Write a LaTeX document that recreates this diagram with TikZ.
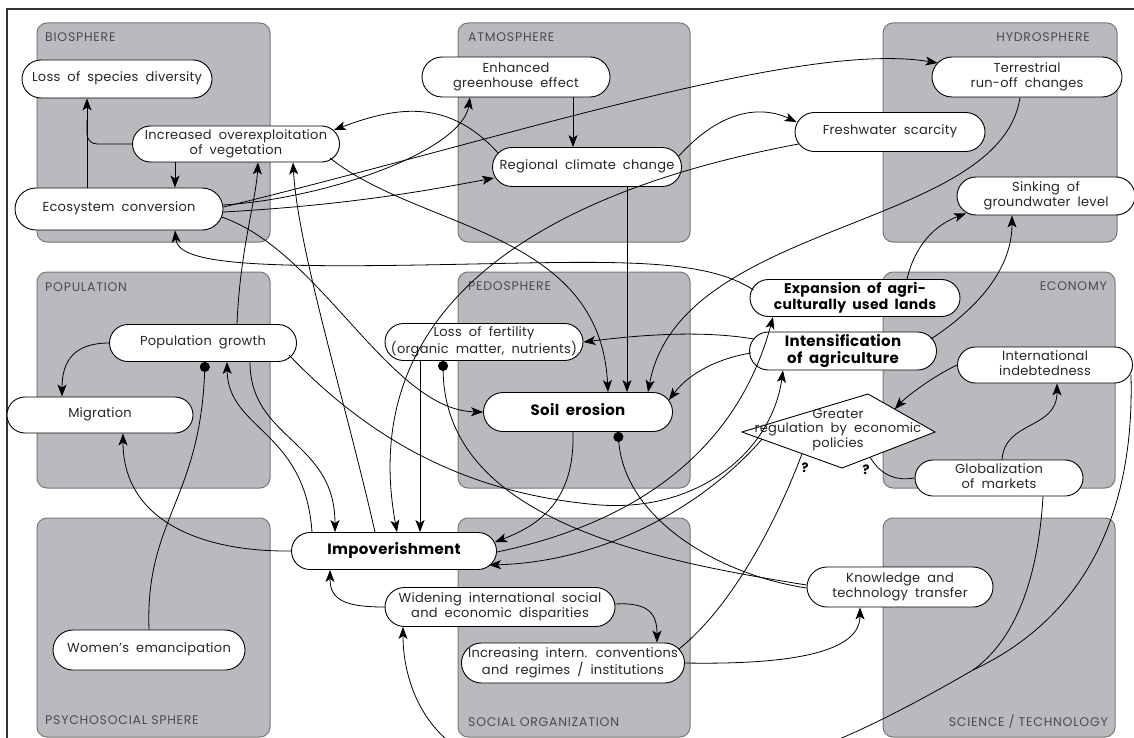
\documentclass[tikz,border=0pt]{standalone}
\usepackage{fontspec}
\setmainfont{Poppins}[WordSpace=1.9, LetterSpace=2]
\newfontfamily\lblfont{Poppins}[LetterSpace=6]
\usetikzlibrary{shapes.misc,arrows.meta,calc}
\definecolor{boxgray}{RGB}{185,186,190}
\definecolor{boxedge}{RGB}{120,120,124}
\definecolor{lblgray}{RGB}{75,75,78}
\newcommand{\pilltext}[1]{\makebox[0pt]{\begin{tabular}{@{}c@{}}#1\end{tabular}}}
\begin{document}
\begin{tikzpicture}[x=1pt,y=-1pt,
  pill/.style={rounded rectangle, draw=black, fill=white, line width=0.9pt, inner sep=0pt,
    font=\fontsize{13}{14.5}\selectfont, text=black!85},
  bpill/.style={pill, font=\fontsize{15}{16.5}\selectfont\bfseries, text=black},
  sphere/.style={draw=boxedge, fill=boxgray, rounded corners=10pt, line width=1pt},
  lbl/.style={font=\lblfont\fontsize{12.5}{13}\selectfont, text=lblgray, inner sep=0pt},
  arr/.style={-{Stealth[length=12pt,width=9pt,inset=3pt]}, line width=0.8pt},
  con/.style={line width=0.8pt},
  dotc/.style={{Circle[length=10pt]}-, line width=0.8pt},
  qm/.style={font=\fontsize{13}{13}\selectfont\bfseries, inner sep=0pt}]
\useasboundingbox (0,0) rectangle (1134,738);
\clip (0,0) rectangle (1134,738);
\fill[white] (0,0) rectangle (1134,738);
\draw[line width=1.3pt, black!80] (7,745) -- (7,9) -- (1140,9);
% spheres
\path[sphere] (37,23) rectangle (270,242);
\path[sphere] (458,23) rectangle (690,242);
\path[sphere] (883,23) rectangle (1117,242);
\path[sphere] (37,272) rectangle (270,488);
\path[sphere] (458,272) rectangle (690,488);
\path[sphere] (883,272) rectangle (1115,488);
\path[sphere] (37,518) rectangle (270,737);
\path[sphere] (458,518) rectangle (690,737);
\path[sphere] (883,518) rectangle (1115,737);
\node[lbl, anchor=west] (lb1) at (45,37) {BIOSPHERE};
\node[lbl, anchor=west] (lb2) at (468,37) {ATMOSPHERE};
\node[lbl, anchor=east] (lb3) at (1090,37) {HYDROSPHERE};
\node[lbl, anchor=west] (lb4) at (45,287) {POPULATION};
\node[lbl, anchor=west] (lb5) at (468,286) {PEDOSPHERE};
\node[lbl, anchor=east] (lb6) at (1107,286) {ECONOMY};
\node[lbl, anchor=west] (lb7) at (45,720) {PSYCHOSOCIAL SPHERE};
\node[lbl, anchor=west] (lb8) at (468,722) {SOCIAL ORGANIZATION};
\node[lbl, anchor=east] (lb9) at (1108,722) {SCIENCE / TECHNOLOGY};
% diamond
\coordinate (dT) at (868,394);
\coordinate (dR) at (935,432);
\coordinate (dB) at (842,468);
\coordinate (dL) at (742,432);
\draw[fill=white, line width=0.9pt] (dT) -- (dR) -- (dB) -- (dL) -- cycle;
% nodes
\node[pill, minimum width=190pt, minimum height=38pt] (lsd) at (117,79) {\pilltext{Loss of species diversity}};
\node[pill, minimum width=207pt, minimum height=36pt] (ove) at (236,144) {\pilltext{Increased overexploitation\\of vegetation}};
\node[pill, minimum width=208pt, minimum height=42pt] (eco) at (119,209) {\pilltext{Ecosystem conversion}};
\node[pill, minimum width=188pt, minimum height=40pt] (gre) at (516,77) {\pilltext{Enhanced\\greenhouse effect}};
\node[pill, minimum width=189pt, minimum height=39pt] (rcc) at (587,167) {\pilltext{Regional climate change}};
\node[pill, minimum width=190pt, minimum height=40pt] (ter) at (1027,77) {\pilltext{Terrestrial\\run-off changes}};
\node[pill, minimum width=190pt, minimum height=39pt] (fws) at (890,132) {\pilltext{Freshwater scarcity}};
\node[pill, minimum width=178pt, minimum height=38pt] (sgw) at (1046,196) {\pilltext{Sinking of\\groundwater level}};
\node[pill, minimum width=187pt, minimum height=37pt] (pop) at (203,343) {\pilltext{Population growth}};
\node[pill, minimum width=186pt, minimum height=36pt] (mig) at (100,415) {\pilltext{Migration}};
\node[pill, minimum width=198pt, minimum height=37pt] (lof) at (484,342) {\pilltext{Loss of fertility\\(organic matter, nutrients)}};
\node[bpill, minimum width=189pt, minimum height=39pt] (soe) at (578,412) {\pilltext{Soil erosion}};
\node[bpill, minimum width=210pt, minimum height=37pt, font=\fontsize{14}{15.5}\selectfont\bfseries] (exp) at (855,298) {\pilltext{Expansion of agri-\\culturally used lands}};
\node[bpill, minimum width=187pt, minimum height=38pt] (int) at (843,351) {\pilltext{Intensification\\of agriculture}};
\node[pill, minimum width=175pt, minimum height=36pt] (ind) at (1045,365) {\pilltext{International\\indebtedness}};
\node[pill, minimum width=168pt, minimum height=36pt] (glo) at (999,478) {\pilltext{Globalization\\of markets}};
\node[bpill, minimum width=205pt, minimum height=37pt] (imp) at (394,551) {\pilltext{Impoverishment}};
\node[pill, minimum width=230pt, minimum height=39pt] (wid) at (500,607) {\pilltext{Widening international social\\and economic disparities}};
\node[pill, minimum width=223pt, minimum height=40pt] (icr) at (573,663) {\pilltext{Increasing intern. conventions\\and regimes / institutions}};
\node[pill, minimum width=186pt, minimum height=40pt] (ktt) at (900,587) {\pilltext{Knowledge and\\technology transfer}};
\node[pill, minimum width=192pt, minimum height=40pt] (wom) at (149,650) {\pilltext{Women's emancipation}};
\node[inner sep=0pt, font=\fontsize{13}{14.5}\selectfont, text=black!85] (dia) at (838,430) {\pilltext{Greater\\regulation by economic\\policies}};
\node[qm] (q1) at (805,468) {?};
\node[qm] (q2) at (866,470) {?};
% connectors
\draw[arr] ([xshift=-32pt]eco.north) -- ([xshift=-30pt]lsd.south);
\draw[con, rounded corners=10pt] (ove.west) -| ([xshift=-30pt,yshift=-22pt]lsd.south);
\draw[arr] ([xshift=-61pt]ove.south) -- ([xshift=56pt]eco.north);
\draw[arr] ([yshift=4pt]eco.east) .. controls (330,198) and (462,150) .. ([xshift=-46pt]gre.south);
\draw[arr] ([yshift=2pt]eco.east) .. controls (500,140) and (800,40) .. ([xshift=6pt,yshift=14pt]ter.west);
\draw[arr] ([yshift=-3pt]eco.east) .. controls (350,205) and (430,190) .. ([xshift=2pt,yshift=-11pt]rcc.west);
\draw[arr] ([xshift=-2pt,yshift=-8pt]eco.east) .. controls (320,250) and (390,410) .. (soe.west);
\draw[arr] ([xshift=-10pt,yshift=-14pt]ove.east) .. controls (420,230) and (600,230) .. ([xshift=30pt]soe.north);
\draw[arr] ([xshift=6pt,yshift=14pt]rcc.west) .. controls (450,100) and (400,105) .. ([xshift=-6pt,yshift=14pt]ove.east);
\draw[arr] ([xshift=57pt]gre.south) -- ([xshift=-14pt]rcc.north);
\draw[arr] ([xshift=40pt]rcc.south) -- ([xshift=49pt]soe.north);
\draw[arr] ([xshift=-4pt,yshift=10pt]rcc.east) .. controls (720,110) and (760,105) .. ([xshift=2pt,yshift=10pt]fws.west);
\draw[arr] ([xshift=4pt,yshift=-12pt]fws.west) .. controls (500,200) and (360,330) .. ([xshift=3pt]imp.north);
\draw[arr] ([xshift=-7pt]ter.south) .. controls (1000,230) and (680,220) .. ([xshift=70pt]soe.north);
\draw[arr] ([xshift=4pt,yshift=8pt]exp.west) .. controls (700,255) and (600,262) .. (420,265) .. controls (240,268) and (178,262) .. ([xshift=56pt]eco.south);
\draw[arr] ([xshift=52pt]exp.north) .. controls (915,245) and (935,225) .. ([xshift=-80pt,yshift=2pt]sgw.south);
\draw[arr] ([xshift=-6pt,yshift=12pt]int.east) .. controls (990,300) and (1012,260) .. ([xshift=-34pt]sgw.south);
\draw[arr] ([xshift=5pt,yshift=12pt]int.west) .. controls (700,330) and (640,335) .. (lof.east);
\draw[arr] ([xshift=2pt,yshift=-2pt]int.west) .. controls (720,358) and (690,372) .. ([xshift=-4pt,yshift=12pt]soe.east);
\draw[arr] ([xshift=-64pt]lof.south) -- ([xshift=26pt]imp.north);
\draw[dotc] ([xshift=-41pt]lof.south) .. controls (445,520) and (650,560) .. ([yshift=2pt]ktt.west);
\draw[dotc] ([xshift=40pt]soe.south) .. controls (625,520) and (720,575) .. ([yshift=-1pt]ktt.west);
\draw[arr] ([xshift=-5pt]soe.south) .. controls (575,500) and (540,525) .. ([xshift=-2pt,yshift=9pt]imp.east);
\draw[arr] ([xshift=34pt]pop.north) .. controls (240,250) and (256,200) .. ([xshift=22pt]ove.south);
\draw[arr] ([xshift=-19pt]imp.north) .. controls (345,400) and (298,250) .. ([xshift=57pt]ove.south);
\draw[arr] ([xshift=-82pt]imp.north) .. controls (305,430) and (228,430) .. ([xshift=24pt]pop.south);
\draw[arr] ([xshift=47pt]pop.south) .. controls (250,440) and (335,440) .. ([xshift=-59pt]imp.north);
\draw[arr] (imp.west) .. controls (200,552) and (123,520) .. ([xshift=23pt]mig.south);
\draw[arr] (pop.west) .. controls (75,343) and (62,360) .. ([xshift=-38pt]mig.north);
\draw[dotc] ([xshift=2pt]pop.south) .. controls (200,500) and (145,520) .. (wom.north);
\draw[arr] (wid.west) .. controls (345,607) and (330,600) .. ([xshift=-64pt]imp.south);
\draw[arr] ([yshift=3pt]wid.east) .. controls (650,602) and (657,615) .. ([xshift=84pt]icr.north);
\draw[arr] ([xshift=-2pt,yshift=-10pt]ind.east) .. controls (1135,520) and (1080,620) .. (973,670) .. controls (930,695) and (880,722) .. (837,740) .. controls (760,775) and (520,790) .. (447,740) .. controls (415,712) and (403,670) .. ([xshift=-97pt]wid.south);
\draw[con] ([xshift=44pt]glo.south) .. controls (1038,580) and (1015,640) .. (973,670);
\draw[arr] (ind.west) .. controls (930,378) and (905,398) .. ($(dT)!0.4!(dR)$);
\draw[arr] ([xshift=3pt]glo.north) .. controls (1005,420) and (1057,430) .. ([xshift=12pt]ind.south);
\draw[con] (glo.west) .. controls (890,482) and (878,470) .. ($(dR)!0.7!(dB)$);
\draw[con] ([xshift=-6pt,yshift=14pt]icr.east) .. controls (740,600) and (785,500) .. ($(dL)!0.6!(dB)$);
\draw[arr] ($(dL)!0.2!(dB)$) .. controls (700,510) and (600,562) .. ([xshift=-8pt,yshift=-14pt]imp.east);
\draw[arr] ([yshift=-1pt]imp.east) .. controls (650,520) and (740,440) .. ([xshift=-82pt]exp.south);
\draw[arr] ([xshift=-8pt,yshift=-12pt]pop.east) .. controls (380,450) and (480,495) .. (600,505) .. controls (700,512) and (772,450) .. ([xshift=-60pt]int.south);
\draw[arr] (icr.east) .. controls (800,665) and (860,650) .. ([xshift=-40pt]ktt.south);
\end{tikzpicture}
\end{document}
